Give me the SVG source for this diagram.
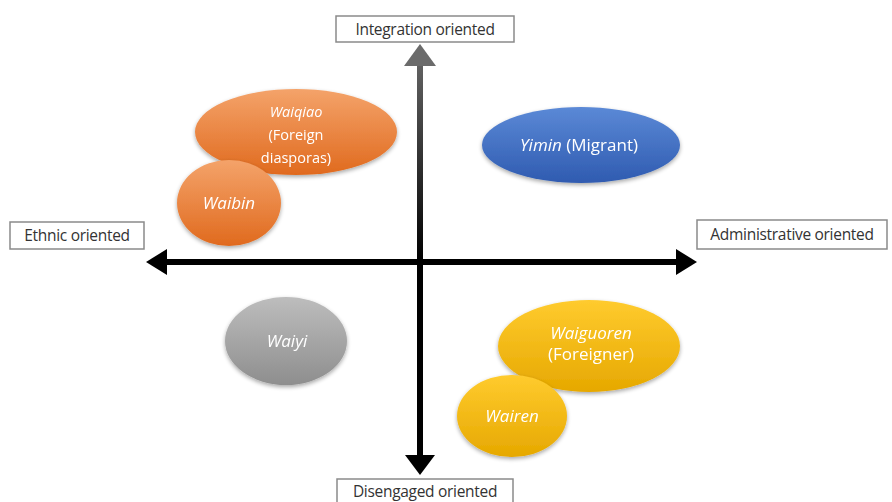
<svg xmlns="http://www.w3.org/2000/svg" width="892" height="502" viewBox="0 0 892 502">
<defs>
<style>
.lbl{fill:#fff;stroke:#8a8a8a;stroke-width:1.5}
.lt{font-family:"Open Sans","Liberation Sans",sans-serif;font-size:15.5px;letter-spacing:-0.3px;fill:#333;text-anchor:middle}
.nt{font-family:"Open Sans","Liberation Sans",sans-serif;font-size:17px;fill:#fff;text-anchor:middle}
.sm{font-size:14.5px}
.it{font-style:italic}
</style>
<linearGradient id="gOr" x1="0" y1="0" x2="0" y2="1"><stop offset="0" stop-color="#F4A36A"/><stop offset="1" stop-color="#E06A1E"/></linearGradient>
<linearGradient id="gBl" x1="0" y1="0" x2="0" y2="1"><stop offset="0" stop-color="#5B89D6"/><stop offset="1" stop-color="#2F5BB0"/></linearGradient>
<linearGradient id="gGr" x1="0" y1="0" x2="0" y2="1"><stop offset="0" stop-color="#BDBDBD"/><stop offset="1" stop-color="#8E8E8E"/></linearGradient>
<linearGradient id="gYe" x1="0" y1="0" x2="0" y2="1"><stop offset="0" stop-color="#FFCB2E"/><stop offset="1" stop-color="#E6A800"/></linearGradient>
<linearGradient id="gAx" gradientUnits="userSpaceOnUse" x1="0" y1="44" x2="0" y2="262"><stop offset="0" stop-color="#6b6b6b"/><stop offset="1" stop-color="#000"/></linearGradient>
<filter id="sh" x="-20%" y="-20%" width="140%" height="150%"><feGaussianBlur in="SourceAlpha" stdDeviation="2"/><feOffset dy="2"/><feComponentTransfer><feFuncA type="linear" slope="0.35"/></feComponentTransfer><feMerge><feMergeNode/><feMergeNode in="SourceGraphic"/></feMerge></filter>
</defs>
<rect width="892" height="502" fill="#fff"/>
<g id="connectors">
<rect x="417" y="64" width="6" height="198" fill="url(#gAx)"/>
<polygon points="420,44 404,66 436,66" fill="#6b6b6b"/>
<rect x="417" y="262" width="6" height="194" fill="#000"/>
<polygon points="420,475 405,455 435,455" fill="#000"/>
<rect x="164" y="259" width="514" height="6" fill="#000"/>
<polygon points="146,262 167,249 167,275" fill="#000"/>
<polygon points="697,262 676,249 676,275" fill="#000"/>
</g>
<g id="integration"><rect class="lbl" x="336" y="16" width="178" height="26"/><text class="lt" x="425" y="34.5">Integration oriented</text></g>
<g id="ethnic"><rect class="lbl" x="10" y="222" width="134" height="27"/><text class="lt" x="77" y="241">Ethnic oriented</text></g>
<g id="administrative"><rect class="lbl" x="697" y="220" width="190" height="29"/><text class="lt" x="792" y="240">Administrative oriented</text></g>
<g id="disengaged"><rect class="lbl" x="337" y="479" width="176" height="26"/><text class="lt" x="425" y="497">Disengaged oriented</text></g>
<g id="waiqiao" filter="url(#sh)"><ellipse cx="296" cy="132" rx="101" ry="43" fill="url(#gOr)"/><text class="nt sm it" x="296" y="117">Waiqiao</text><text class="nt sm" x="296" y="140">(Foreign</text><text class="nt sm" x="296" y="163">diasporas)</text></g>
<g id="waibin" filter="url(#sh)"><ellipse cx="229" cy="203" rx="52" ry="43" fill="url(#gOr)"/><text class="nt it" x="229" y="209">Waibin</text></g>
<g id="yimin" filter="url(#sh)"><ellipse cx="581" cy="145" rx="99" ry="38" fill="url(#gBl)"/><text class="nt" x="579" y="151"><tspan class="it">Yimin</tspan> (Migrant)</text></g>
<g id="waiyi" filter="url(#sh)"><ellipse cx="286" cy="341" rx="61" ry="44" fill="url(#gGr)"/><text class="nt it" x="287" y="347">Waiyi</text></g>
<g id="waiguoren" filter="url(#sh)"><ellipse cx="589" cy="346" rx="91" ry="46" fill="url(#gYe)"/><text class="nt it" x="591" y="339">Waiguoren</text><text class="nt" x="591" y="360">(Foreigner)</text></g>
<g id="wairen" filter="url(#sh)"><ellipse cx="512" cy="416" rx="55" ry="41" fill="url(#gYe)"/><text class="nt it" x="512" y="422">Wairen</text></g>
</svg>
